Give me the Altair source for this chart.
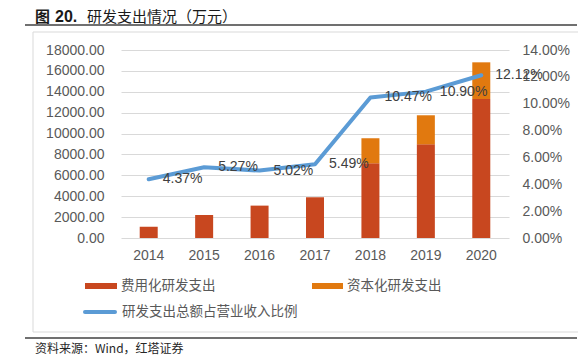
import altair as alt
import pandas as pd

years = ["2014", "2015", "2016", "2017", "2018", "2019", "2020"]
expensed = [1080, 2200, 3100, 3900, 7150, 8970, 13310]
capitalized = [0, 0, 0, 0, 2390, 2780, 3510]
ratio = [4.37, 5.27, 5.02, 5.49, 10.47, 10.90, 12.12]
series_names = ["费用化研发支出", "资本化研发支出"]
line_name = "研发支出总额占营业收入比例"
title_parts = ["图", "20.", "研发支出情况（万元）"]
source_text = "资料来源：Wind，红塔证券"

RED = "#C8471F"
ORANGE = "#E1790F"
BLUE = "#5B9BD5"
LATIN = "Liberation Sans"
CJK = "Noto Sans CJK SC"

rows = []
for i, y in enumerate(years):
    rows.append({"year": y, "type": series_names[0], "value": expensed[i], "ord": 0})
    rows.append({"year": y, "type": series_names[1], "value": capitalized[i], "ord": 1})
bar_df = pd.DataFrame(rows)
line_df = pd.DataFrame({"year": years, "ratio": [r / 100 for r in ratio],
                        "label": [f"{r:.2f}%" for r in ratio]})

x_enc = alt.X("year:N", sort=years,
              scale=alt.Scale(paddingInner=0, paddingOuter=0),
              axis=alt.Axis(labelAngle=0, ticks=False, domain=False, labelPadding=10,
                            labelFontSize=14, labelColor="#595959", labelFont=LATIN,
                            title=None))

bars = alt.Chart(bar_df).mark_bar(size=18).encode(
    x=x_enc,
    y=alt.Y("value:Q", stack="zero",
            scale=alt.Scale(domain=[0, 18000], nice=False),
            axis=alt.Axis(values=list(range(0, 18001, 2000)), format=".2f",
                          grid=True, gridColor="#D9D9D9", gridWidth=1,
                          domain=False, ticks=False, labelPadding=17,
                          labelFontSize=14, labelColor="#595959", labelFont=LATIN,
                          title=None)),
    color=alt.Color("type:N", scale=alt.Scale(domain=series_names, range=[RED, ORANGE]),
                    legend=None),
    order=alt.Order("ord:Q"),
)

base = alt.Chart(line_df).encode(
    x=x_enc,
    y=alt.Y("ratio:Q", scale=alt.Scale(domain=[0, 0.14], nice=False),
            axis=alt.Axis(orient="right", values=[0, 0.02, 0.04, 0.06, 0.08, 0.10, 0.12, 0.14],
                          format=".2%", grid=False, domain=False, ticks=False,
                          labelPadding=13, labelFontSize=14, labelColor="#595959",
                          labelFont=LATIN, title=None)),
)
line = base.mark_line(color=BLUE, strokeWidth=4, strokeCap="round", strokeJoin="round")
labels = base.mark_text(align="left", baseline="middle", dx=14, fontSize=14,
                        color="#404040", font=LATIN).encode(text="label:N")
line_layer = alt.layer(line, labels)

one = pd.DataFrame({"a": [0]})

frame = alt.Chart(one).mark_rect(fillOpacity=0, stroke="#D9D9D9", strokeWidth=1).encode(
    x=alt.value(-88), x2=alt.value(459), y=alt.value(-18), y2=alt.value(282))
top_rule = alt.Chart(one).mark_rule(color="#404040", strokeWidth=1.5).encode(
    x=alt.value(-96), x2=alt.value(456), y=alt.value(-25))
bottom_rule = alt.Chart(one).mark_rule(color="#404040", strokeWidth=1.5).encode(
    x=alt.value(-96), x2=alt.value(456), y=alt.value(288))

TY = -33
t1 = alt.Chart(one).mark_text(text=title_parts[0], align="left", baseline="middle",
                              fontSize=15, font=CJK, fontWeight="bold", color="#1a1a1a").encode(
    x=alt.value(-86), y=alt.value(TY))
t2 = alt.Chart(one).mark_text(text=title_parts[1], align="left", baseline="middle",
                              fontSize=16, font=LATIN, fontWeight="bold", color="#1a1a1a").encode(
    x=alt.value(-66), y=alt.value(TY))
t3 = alt.Chart(one).mark_text(text=title_parts[2], align="left", baseline="middle",
                              fontSize=15, font=CJK, color="#1a1a1a").encode(
    x=alt.value(-34), y=alt.value(TY))

leg_red = alt.Chart(one).mark_rect(color=RED).encode(
    x=alt.value(-36), x2=alt.value(-4), y=alt.value(233), y2=alt.value(239))
leg_red_t = alt.Chart(one).mark_text(text=series_names[0], align="left", baseline="middle",
                                     fontSize=13.5, font=CJK, color="#595959").encode(
    x=alt.value(0), y=alt.value(236))
leg_or = alt.Chart(one).mark_rect(color=ORANGE).encode(
    x=alt.value(191), x2=alt.value(222), y=alt.value(233), y2=alt.value(239))
leg_or_t = alt.Chart(one).mark_text(text=series_names[1], align="left", baseline="middle",
                                    fontSize=13.5, font=CJK, color="#595959").encode(
    x=alt.value(226), y=alt.value(236))
leg_bl = alt.Chart(one).mark_rule(color=BLUE, strokeWidth=4, strokeCap="round").encode(
    x=alt.value(-36), x2=alt.value(-6), y=alt.value(262))
leg_bl_t = alt.Chart(one).mark_text(text=line_name, align="left", baseline="middle",
                                    fontSize=13.5, font=CJK, color="#595959").encode(
    x=alt.value(1), y=alt.value(262))
src = alt.Chart(one).mark_text(text=source_text, align="left", baseline="middle",
                               fontSize=12, font=CJK, color="#262626").encode(
    x=alt.value(-86), y=alt.value(298.5))

decor = alt.layer(frame, top_rule, bottom_rule, t1, t2, t3, leg_red, leg_red_t,
                  leg_or, leg_or_t, leg_bl, leg_bl_t, src)

chart = alt.layer(bars, line_layer, decor).resolve_scale(y="independent").properties(
    width=388, height=188,
    autosize=alt.AutoSizeParams(type="none"),
    padding={"left": 113, "top": 42, "right": 69, "bottom": 117},
    background="white",
).configure_view(stroke=None)

chart.save("out.html", embed_options={"renderer": "svg", "actions": False})
